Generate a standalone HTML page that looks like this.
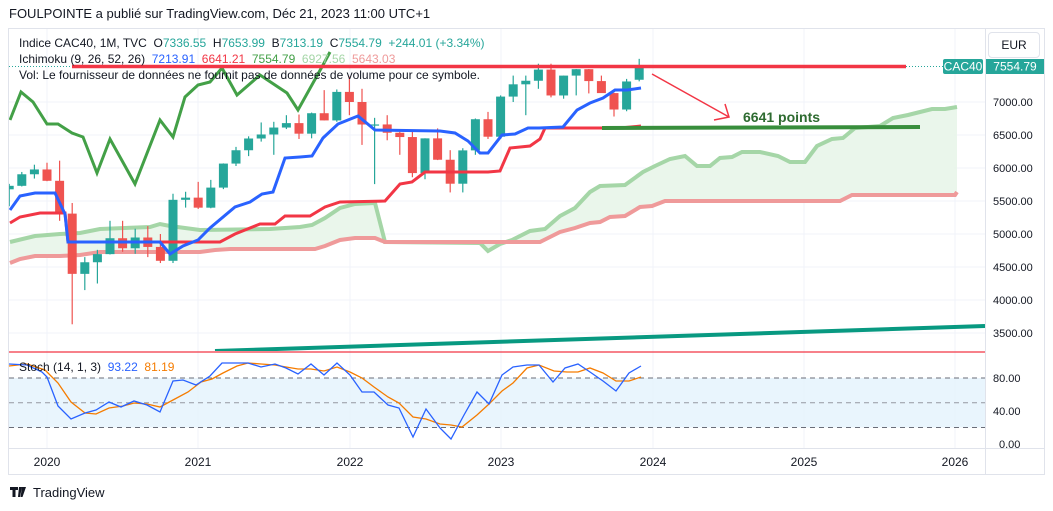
<!DOCTYPE html>
<html><head><meta charset="utf-8"><style>
body{margin:0;width:1053px;height:511px;background:#fff;font-family:"Liberation Sans",sans-serif;overflow:hidden;position:relative}
.t{position:absolute;white-space:nowrap;color:#131722}
</style></head><body>
<div class="t" style="left:9px;top:6px;font-size:13px">FOULPOINTE a publié sur TradingView.com, Déc 21, 2023 11:00 UTC+1</div>
<svg id="s" width="1053" height="511" style="position:absolute;left:0;top:0" font-family="Liberation Sans, sans-serif"></svg>
<div class="t" style="left:19px;top:36px;font-size:12px">Indice CAC40, 1M, TVC &nbsp;O<span style="color:#26a69a">7336.55</span> &nbsp;H<span style="color:#26a69a">7653.99</span> &nbsp;B<span style="color:#26a69a">7313.19</span> &nbsp;C<span style="color:#26a69a">7554.79 &nbsp;+244.01 (+3.34%)</span></div>
<div class="t" style="left:19px;top:52px;font-size:12px">Ichimoku (9, 26, 52, 26) &nbsp;<span style="color:#2962ff">7213.91</span> &nbsp;<span style="color:#f23645">6641.21</span> &nbsp;<span style="color:#43a047">7554.79</span> &nbsp;<span style="color:#a5d6a7">6927.56</span> &nbsp;<span style="color:#ef9a9a">5643.03</span></div>
<div class="t" style="left:19px;top:68px;font-size:12px">Vol: Le fournisseur de données ne fournit pas de données de volume pour ce symbole.</div>
<div class="t" style="left:19px;top:360px;font-size:12px">Stoch (14, 1, 3) &nbsp;<span style="color:#2962ff">93.22</span> &nbsp;<span style="color:#f57c00">81.19</span></div>
<div class="t" style="left:988px;top:32px;width:50px;height:24px;border:1px solid #e0e3eb;border-radius:4px;font-size:12px;line-height:24px;text-align:center">EUR</div>
<div class="t" style="left:33px;top:485px;font-size:13px">TradingView</div>
<script>
const s=document.getElementById('s');let h='';
const Y=p=>102+(7000-p)*0.066, X=m=>47+m*12.6, SY=v=>444-v*0.825;
h+='<rect x="8.5" y="28.5" width="1036" height="446" fill="none" stroke="#e0e3eb"/>';
h+='<line x1="985.5" y1="28" x2="985.5" y2="475" stroke="#e0e3eb"/>';
h+='<line x1="8" y1="448.5" x2="1045" y2="448.5" stroke="#e0e3eb"/>';
h+='<path d="M10 487h8v3h-2.5v7h-3v-7H10z M19 487h3l-2 10h-2z M22 487h4l-3.5 10h-2z" fill="#131722"/>';
[47,198,350,501,653,804,955].forEach(x=>h+=`<line x1="${x}" y1="29" x2="${x}" y2="448" stroke="#f0f3fa"/>`);
for(let p=3500;p<=7000;p+=500)h+=`<line x1="9" y1="${Y(p)}" x2="985" y2="${Y(p)}" stroke="#f0f3fa"/><text x="993" y="${Y(p)+4}" font-size="11" fill="#131722">${p.toFixed(2)}</text>`;
[[80,'80.00'],[40,'40.00'],[0,'0.00']].forEach(a=>h+=`<text x="${a[0]?993:999}" y="${SY(a[0])+4}" font-size="11" fill="#131722">${a[1]}</text>`);
['2020','2021','2022','2023','2024','2025','2026'].forEach((t,i)=>h+=`<text x="${[47,198,350,501,653,804,955][i]}" y="466" font-size="12" text-anchor="middle" fill="#131722">${t}</text>`);
h+='<defs><clipPath id="c"><rect x="9" y="29" width="976" height="322"/></clipPath></defs><g clip-path="url(#c)">';
const P=a=>a.map(p=>p[0]+','+p[1]).join(' ');
const A=[[10,242],[35,236],[60,234],[80,233],[100,229],[150,227],[160,224],[170,226],[185,228],[200,230],[270,229],[300,227],[312,225],[325,218],[340,208],[355,204],[375,203],[385,242],[480,243],[488,251],[500,244],[512,240],[530,231],[545,229],[560,216],[575,208],[590,192],[600,186],[625,185],[643,172],[655,166],[670,159],[685,156],[697,166],[710,166],[720,158],[732,157],[742,152],[760,152],[778,156],[790,162],[805,162],[817,146],[832,139],[843,138],[855,128],[868,127],[880,126],[893,118],[908,115],[920,112],[932,109],[945,109],[957,107]];
const B=[[10,263],[20,259],[35,256],[60,256],[80,255],[100,252],[200,252],[215,250],[230,249],[315,249],[325,246],[340,240],[355,238],[375,238],[385,242],[540,242],[548,238],[560,232],[575,228],[590,223],[600,222],[610,217],[625,216],[640,207],[652,206],[665,201],[840,201],[852,195],[955,195],[957,192]];
h+=`<polygon points="${P(A)} ${P(B.slice().reverse())}" fill="#e8f5e9" opacity=".9"/>`;
h+=`<polyline points="${P(A)}" fill="none" stroke="#a5d6a7" stroke-width="4"/>`;
h+=`<polyline points="${P(B)}" fill="none" stroke="#ef9a9a" stroke-width="4"/>`;
const K=[[10,223],[20,217],[40,213],[65,213],[68,242],[220,242],[235,234],[260,224],[275,224],[285,216],[310,216],[325,207],[340,202],[385,201],[400,184],[412,182],[425,172],[488,172],[500,171],[510,148],[530,146],[540,139],[545,128],[620,128],[641,126]];
const T=[[10,210],[20,196],[35,193],[55,193],[65,214],[68,242],[160,242],[170,254],[183,246],[198,240],[210,228],[235,207],[250,202],[262,194],[273,192],[285,158],[300,157],[312,156],[323,138],[338,124],[358,116],[375,130],[440,131],[455,133],[468,141],[480,153],[488,153],[502,135],[515,134],[528,128],[539,128],[563,127],[577,110],[590,103],[603,98],[615,90],[627,90],[641,88]];
const C=[[10,120],[21,92],[33,102],[47,124],[58,124],[72,133],[83,137],[97,173],[110,139],[135,184],[160,120],[173,137],[185,97],[198,85],[210,82],[222,68],[237,95],[260,75],[287,93],[298,110],[323,65],[330,52]];
h+=`<polyline points="${P(C)}" fill="none" stroke="#43a047" stroke-width="3"/>`;
const D=[[5677,5760,5420,5730],[5730,5940,5720,5905],[5905,6050,5840,5978],[5978,6080,5800,5806],[5806,6111,5200,5309],[5309,5470,3632,4396],[4396,4650,4150,4572],[4572,4760,4250,4695],[4695,5200,4690,4936],[4936,5200,4730,4784],[4784,5080,4700,4947],[4947,5120,4650,4804],[4804,5000,4560,4594],[4594,5610,4560,5518],[5518,5640,5400,5551],[5551,5790,5380,5399],[5399,5820,5390,5703],[5703,6070,5680,6067],[6067,6320,6030,6269],[6269,6480,6180,6447],[6447,6690,6400,6508],[6508,6700,6200,6613],[6613,6800,6590,6680],[6680,6810,6440,6520],[6520,6840,6450,6830],[6830,7180,6720,6721],[6721,7190,6700,7153],[7153,7384,6800,7000],[7000,7200,6350,6659],[6659,6760,5756,6660],[6660,6800,6420,6534],[6534,6550,6200,6469],[6469,6550,5860,5923],[5923,6450,5830,6449],[6449,6600,6120,6125],[6125,6270,5630,5762],[5762,6300,5630,6267],[6267,6750,6200,6739],[6739,6850,6440,6474],[6474,7100,6440,7082],[7082,7400,7000,7268],[7268,7400,6800,7322],[7322,7580,7200,7491],[7491,7580,7070,7099],[7099,7400,7050,7400],[7400,7500,7100,7497],[7497,7500,7130,7317],[7317,7400,7150,7135],[7135,7140,6780,6886],[6886,7350,6860,7311],[7337,7654,7313,7555]];
D.forEach((d,i)=>{const x=X(i-3),c=d[3]>=d[0]?'#26a69a':'#ef5350';const t=Y(Math.max(d[0],d[3])),b=Y(Math.min(d[0],d[3]));
h+=`<line x1="${x}" y1="${Y(d[1])}" x2="${x}" y2="${Y(d[2])}" stroke="${c}" stroke-width="1.2"/><rect x="${x-4.5}" y="${t}" width="9" height="${Math.max(1.2,b-t)}" fill="${c}"/>`;});
h+=`<polyline points="${P(K)}" fill="none" stroke="#f23645" stroke-width="3"/>`;
h+=`<polyline points="${P(T)}" fill="none" stroke="#2962ff" stroke-width="3"/>`;
h+='<line x1="602" y1="128" x2="920" y2="127" stroke="#388e3c" stroke-width="4"/>';
h+='<text x="743" y="122" font-size="14" font-weight="bold" fill="#2e6b30">6641 points</text>';
h+='<line x1="652" y1="74" x2="729" y2="117" stroke="#f23645" stroke-width="1.5"/><polyline points="714,120 729,117 725,104" fill="none" stroke="#f23645" stroke-width="1.5"/>';
h+='<line x1="72" y1="66.5" x2="906" y2="66.5" stroke="#f23645" stroke-width="3.5"/><line x1="906" y1="66.5" x2="943" y2="66.5" stroke="#26a69a" stroke-dasharray="1 2"/><line x1="9" y1="66.5" x2="72" y2="66.5" stroke="#26a69a" stroke-dasharray="1 2"/>';
h+='<line x1="215" y1="351" x2="985" y2="326" stroke="#089981" stroke-width="4"/>';
h+='</g>';
h+='<rect x="943" y="59" width="40" height="15" rx="2" fill="#26a69a"/><text x="963" y="70.5" font-size="12" text-anchor="middle" fill="#fff">CAC40</text>';
h+='<rect x="986" y="59" width="58" height="15" fill="#26a69a"/><text x="1015" y="70.5" font-size="12" text-anchor="middle" fill="#fff">7554.79</text>';
h+='<line x1="9" y1="352" x2="985" y2="352" stroke="#f23645" stroke-width="1.2"/>';
h+=`<rect x="9" y="${SY(80)}" width="976" height="${SY(20)-SY(80)}" fill="#e3f2fd" opacity=".8"/>`;
[80,50,20].forEach(v=>h+=`<line x1="9" y1="${SY(v)}" x2="985" y2="${SY(v)}" stroke="${v==50?'#9598a1':'#6a6d78'}" stroke-dasharray="5 4"/>`);
const SK=[[9,364],[27,365],[42,372],[47,377],[58,406],[71,419],[85,413],[96,410],[109,402],[121,407],[134,401],[147,405],[160,412],[173,381],[183,380],[196,385],[210,376],[222,363],[237,363],[248,363],[261,367],[275,364],[286,368],[298,374],[311,364],[324,375],[337,363],[350,375],[362,392],[374,392],[388,405],[399,408],[413,437],[426,409],[440,428],[451,439],[464,415],[477,392],[489,404],[502,375],[513,367],[527,365],[539,365],[553,382],[565,368],[578,364],[590,372],[603,381],[616,391],[629,373],[641,366]];
const SD=[[9,366],[27,364],[45,370],[58,383],[71,402],[85,413],[96,414],[109,408],[123,406],[134,403],[147,404],[160,407],[173,400],[188,392],[201,382],[212,379],[223,373],[237,366],[248,363],[261,364],[275,365],[286,367],[298,369],[311,369],[324,371],[337,367],[350,372],[362,378],[374,387],[388,397],[399,403],[413,417],[426,419],[440,424],[451,425],[462,427],[477,415],[489,404],[502,391],[513,383],[527,368],[539,365],[554,371],[567,372],[578,372],[590,368],[603,373],[616,381],[629,381],[641,377]];
h+=`<polyline points="${P(SD)}" fill="none" stroke="#f57c00" stroke-width="1.3"/>`;
h+=`<polyline points="${P(SK)}" fill="none" stroke="#2962ff" stroke-width="1.3"/>`;
s.innerHTML=h;
</script>
</body></html>
